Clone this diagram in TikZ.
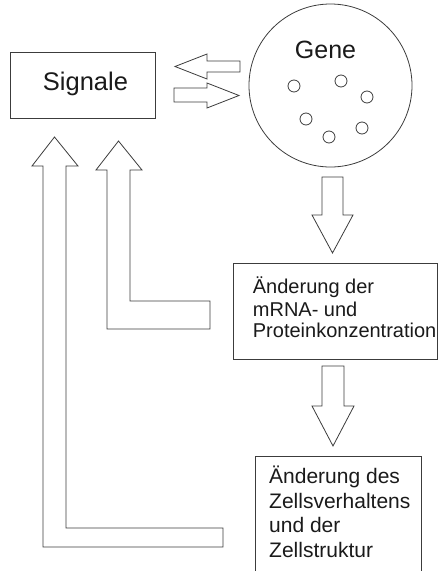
\documentclass[tikz,border=0pt]{standalone}
\usepackage{fontspec}
\setmainfont{Liberation Sans}
\definecolor{ln}{HTML}{3C3C3C}
\definecolor{tx}{HTML}{1A1A1A}
\tikzset{
  box/.style={draw=ln, line width=0.8pt, rectangle, inner sep=0pt},
  blockarrow/.style={draw=ln, line width=0.8pt, line join=miter, fill=white},
  dot/.style={draw=ln, line width=0.8pt, circle, minimum size=12pt, inner sep=0pt},
  lbl/.style={text=tx, inner sep=0pt, anchor=base west}
}
\begin{document}
\begin{tikzpicture}[x=1pt,y=-1pt]
\useasboundingbox (0,0) rectangle (438,571);
% Signale
\node[box, minimum width=145pt, minimum height=66pt] (sig) at (82.5,85) {};
\node[text=tx, inner sep=0pt, anchor=base, font=\fontsize{25.5}{30}\selectfont] (sigt) at (85.5,90) {Signale};
% Gene circle
\node[draw=ln, line width=0.8pt, circle, minimum size=163pt, inner sep=0pt] (gene) at (330.5,85.5) {};
\node[text=tx, inner sep=0pt, anchor=base, font=\fontsize{25}{30}\selectfont] (genet) at (325.5,58) {Gene};
\node[dot] (g1) at (294,86) {};
\node[dot] (g2) at (341,81) {};
\node[dot] (g3) at (367,97) {};
\node[dot] (g4) at (306,119) {};
\node[dot] (g5) at (329,137) {};
\node[dot] (g6) at (362,128) {};
% horizontal block arrows
\draw[blockarrow] (175,66.5) -- (207,54) -- (207,61) -- (240,61) -- (240,72) -- (207,72) -- (207,79) -- cycle;
\draw[blockarrow] (174,88) -- (207,88) -- (207,83) -- (239,95.5) -- (207,108) -- (207,102) -- (174,102) -- cycle;
% down arrow 1
\draw[blockarrow] (322,177) -- (343,177) -- (343,215) -- (353,215) -- (332.5,253) -- (312,215) -- (322,215) -- cycle;
% box 2
\node[box, minimum width=204pt, minimum height=96pt] (mrna) at (335,311) {};
\node[lbl, font=\fontsize{20}{22}\selectfont] (m1) at (252.7,293) {Änderung der};
\node[lbl, font=\fontsize{20}{22}\selectfont] (m2) at (252.7,316) {mRNA- und};
\node[lbl, font=\fontsize{20}{22}\selectfont] (m3) at (252.7,337) {Proteinkonzentration};
% down arrow 2
\draw[blockarrow] (322,366) -- (344,366) -- (344,406) -- (354,406) -- (333,446) -- (312,406) -- (322,406) -- cycle;
% box 3
\node[box, minimum width=166pt, minimum height=130pt] (zell) at (338,521) {};
\node[lbl, font=\fontsize{21}{24}\selectfont] (z1) at (269,483) {Änderung des};
\node[lbl, font=\fontsize{21}{24}\selectfont] (z2) at (269,508) {Zellsverhaltens};
\node[lbl, font=\fontsize{21}{24}\selectfont] (z3) at (269,532) {und der};
\node[lbl, font=\fontsize{21}{24}\selectfont] (z4) at (269,557) {Zellstruktur};
% L-shaped return arrows
\draw[blockarrow] (118.5,141) -- (142,170) -- (130,170) -- (130,301) -- (210,301) -- (210,329) -- (107,329) -- (107,170) -- (96,170) -- cycle;
\draw[blockarrow] (54.5,137) -- (78,166) -- (66,166) -- (66,528) -- (223,528) -- (223,547) -- (43,547) -- (43,166) -- (32,166) -- cycle;
\end{tikzpicture}
\end{document}
